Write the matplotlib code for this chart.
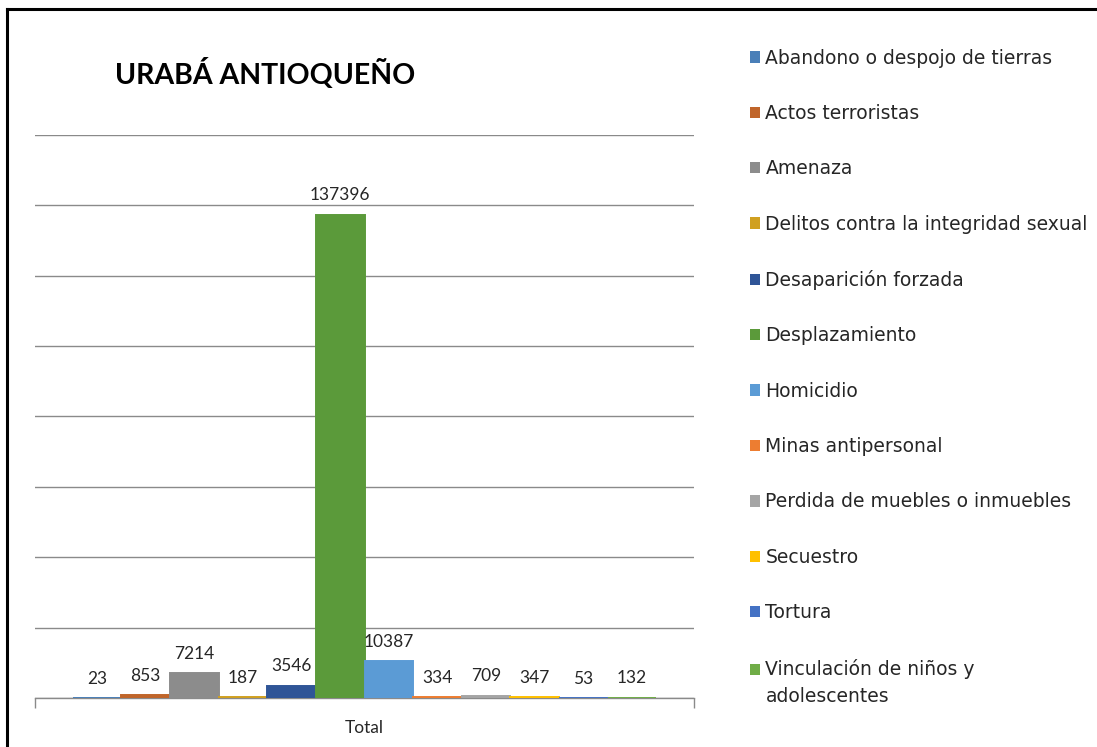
import matplotlib
matplotlib.use("Agg")
import matplotlib.pyplot as plt
from matplotlib.patches import Patch
from matplotlib.lines import Line2D

plt.rcParams['font.family'] = ['Lato', 'DejaVu Sans']

title = "URABÁ ANTIOQUEÑO"
category = "Total"
series_names = [
    "Abandono o despojo de tierras",
    "Actos terroristas",
    "Amenaza",
    "Delitos contra la integridad sexual",
    "Desaparición forzada",
    "Desplazamiento",
    "Homicidio",
    "Minas antipersonal",
    "Perdida de muebles o inmuebles",
    "Secuestro",
    "Tortura",
    "Vinculación de niños y\nadolescentes",
]
values = [23, 853, 7214, 187, 3546, 137396, 10387, 334, 709, 347, 53, 132]
colors = ["#4A7FB8", "#C0652A", "#8C8C8C", "#D0A020", "#2F5597", "#5B9A3A",
          "#5B9BD5", "#ED7D31", "#A5A5A5", "#FFC000", "#4472C4", "#70AD47"]

fig = plt.figure(figsize=(10.97, 7.47), dpi=100)
ax = fig.add_axes([35/1097, 1-698/747, (694-35)/1097, (698-135)/747])

n = len(values)
group_w = 0.886
bw = group_w / n
xs = [-group_w/2 + (i + 0.5) * bw for i in range(n)]
bars = ax.bar(xs, values, width=bw, color=colors, edgecolor=colors, linewidth=1.4, zorder=3)
ax.bar_label(bars, labels=[str(v) for v in values], padding=8, fontsize=12.5, color="#262626")

ax.set_xlim(-0.5, 0.5)
ax.set_ylim(0, 160000)
ax.set_yticks(range(0, 160001, 20000))
ax.yaxis.grid(True, color="#8a8a8a", linewidth=1.0, zorder=0)
ax.tick_params(axis='y', left=False, labelleft=False)
ax.set_xticks([0])
ax.set_xticklabels([category], fontsize=12.5, color="#262626")
ax.tick_params(axis='x', which='major', length=0, pad=16)
ax.set_xticks([-0.5, 0.5], minor=True)
ax.tick_params(axis='x', which='minor', length=7, color="#8a8a8a", width=1)
for s in ['top', 'right', 'left']:
    ax.spines[s].set_visible(False)
ax.spines['bottom'].set_color("#8a8a8a")
ax.spines['bottom'].set_linewidth(1.0)
ax.spines['bottom'].set_zorder(2)

fig.text(265/1097, 1-73/747, title, fontsize=20.5, fontweight='bold',
         ha='center', va='center', color='black')

handles = [Patch(facecolor=c, edgecolor='none') for c in colors]
leg = fig.legend(handles, series_names, loc='upper left', bbox_to_anchor=(742/1097, 1-41/747),
                 frameon=False, prop={'family': 'DejaVu Sans', 'size': 13.5},
                 handlelength=0.55, handleheight=0.55,
                 handletextpad=0.3, labelspacing=1.94, borderaxespad=0, labelcolor="#262626")
leg.get_texts()[-1].set_linespacing(1.55)
last = leg.legend_handles[-1]
last.set_y(last.get_y() + 10.0)

fig.add_artist(Line2D([7/1097, 7/1097], [0, 1-9/747], color='black', linewidth=2.2, transform=fig.transFigure))
fig.add_artist(Line2D([7/1097, 1], [1-9/747, 1-9/747], color='black', linewidth=2.2, transform=fig.transFigure))

fig.savefig("out.png", dpi=100)
